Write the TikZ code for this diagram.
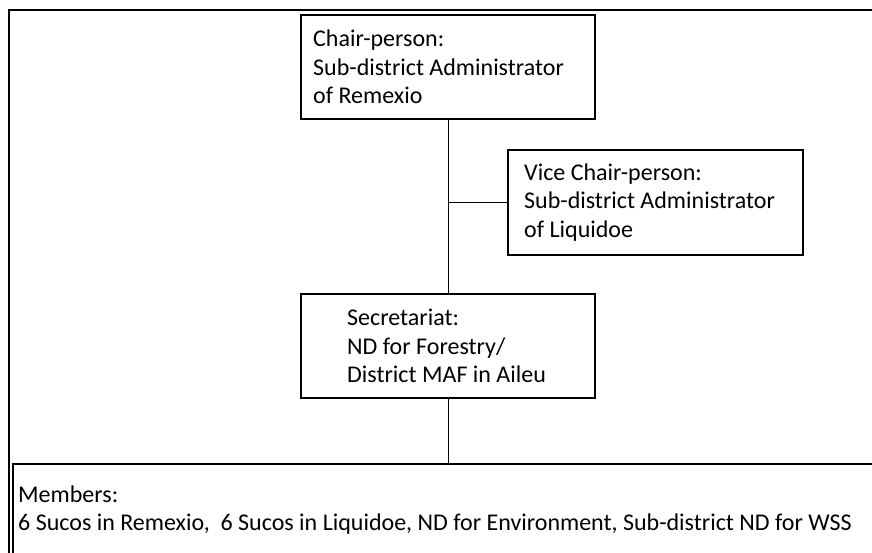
\documentclass[tikz,border=0pt]{standalone}
\usepackage{fontspec}
\setmainfont{Carlito}
\begin{document}
\begin{tikzpicture}[x=1pt,y=1pt,
  box/.style={draw=black, line width=2pt, rectangle, inner sep=0pt, fill=white},
  boxtext/.style={anchor=west, align=left, inner sep=0pt, font=\fontsize{24}{28.5}\selectfont},
  conn/.style={draw=black, line width=0.9pt}]
\useasboundingbox (0,0) rectangle (872,553);
\clip (0,0) rectangle (872,553);
\fill[white] (0,0) rectangle (872,553);
% outer frame (right and bottom edges lie outside the page)
\draw[line width=2pt] (9,-10) rectangle (890,543);
% boxes
\node[box, minimum width=294pt, minimum height=104pt, anchor=north west] (chair) at (300,539) {};
\node[boxtext, xshift=13pt] (chairtxt) at (chair.west) {Chair-person:\\Sub-district Administrator\\of Remexio};
\node[box, minimum width=295pt, minimum height=105pt, anchor=north west] (vice) at (507,404) {};
\node[boxtext, xshift=17pt] (vicetxt) at (vice.west) {Vice Chair-person:\\Sub-district Administrator\\of Liquidoe};
\node[box, minimum width=294pt, minimum height=104pt, anchor=north west] (sec) at (300,260) {};
\node[boxtext, xshift=47pt] (sectxt) at (sec.west) {Secretariat:\\ND for Forestry/\\District MAF in Aileu};
\node[box, minimum width=880pt, minimum height=110pt, anchor=north west] (mem) at (12,90) {};
\node[boxtext, anchor=north west] (memtxt) at (18,67.5) {Members:\\6 Sucos in Remexio,\ \ 6 Sucos in Liquidoe, ND for Environment, Sub-district ND for WSS};
% connectors
\coordinate (junc) at (chair.south |- vice.west);
\draw[conn] (chair.south) -- (sec.north);
\draw[conn] (junc) -- (vice.west);
\draw[conn] (sec.south) -- (sec.south |- mem.north);
\end{tikzpicture}
\end{document}
